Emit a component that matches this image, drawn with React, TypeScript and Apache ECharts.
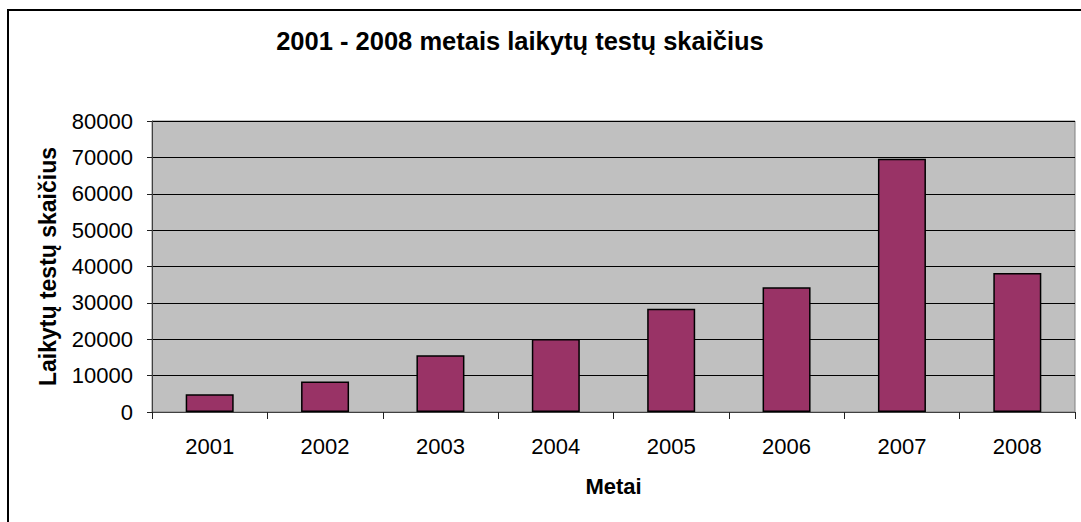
import React, { useEffect, useRef } from "react";
import * as echarts from "echarts";

const titleText = "2001 - 2008 metais laikytų testų skaičius";
const xAxisName = "Metai";
const yAxisName = "Laikytų testų skaičius";
const years = ["2001", "2002", "2003", "2004", "2005", "2006", "2007", "2008"];
const testCounts = [4900, 8400, 15600, 20100, 28400, 34300, 69600, 38200];
const yMin = 0;
const yMax = 80000;
const yStep = 10000;

const FONT = "'Liberation Sans', Arial, sans-serif";

export default function App() {
  const ref = useRef<HTMLDivElement>(null);
  useEffect(() => {
    if (!ref.current) return;
    const chart = echarts.init(ref.current, undefined, { renderer: "svg" });
    chart.setOption({
      animation: false,
      backgroundColor: "#ffffff",
      textStyle: { fontFamily: FONT },
      grid: {
        left: 152,
        top: 121,
        right: 6,
        bottom: 110,
        show: true,
        backgroundColor: "#c0c0c0",
        borderColor: "#808080",
        borderWidth: 1,
      },
      graphic: [
        {
          type: "rect",
          shape: { x: 8, y: 10, width: 1200, height: 700 },
          style: { fill: "none", stroke: "#000000", lineWidth: 2 },
          silent: true,
          z: 100,
        },
        {
          type: "text",
          x: 520,
          y: 41,
          style: {
            text: titleText,
            fontFamily: FONT,
            fontWeight: "bold",
            fontSize: 25.5,
            fill: "#000000",
            align: "center",
            verticalAlign: "middle",
          },
        },
      ],
      xAxis: {
        type: "category",
        data: years,
        name: xAxisName,
        nameLocation: "middle",
        nameGap: 63,
        nameTextStyle: {
          fontFamily: FONT,
          fontWeight: "bold",
          fontSize: 22,
          color: "#000000",
        },
        axisLine: { show: true, lineStyle: { color: "#404040", width: 1 } },
        axisTick: { show: true, length: 7, lineStyle: { color: "#202020" } },
        axisLabel: {
          fontFamily: FONT,
          fontSize: 22,
          color: "#000000",
          margin: 23,
        },
        splitLine: { show: false },
      },
      yAxis: {
        type: "value",
        min: yMin,
        max: yMax,
        interval: yStep,
        name: yAxisName,
        nameLocation: "middle",
        nameGap: 93,
        nameTextStyle: {
          fontFamily: FONT,
          fontWeight: "bold",
          fontSize: 23,
          color: "#000000",
        },
        axisLine: { show: true, lineStyle: { color: "#404040", width: 1 } },
        axisTick: { show: true, length: 5, lineStyle: { color: "#202020" } },
        axisLabel: {
          fontFamily: FONT,
          fontSize: 22,
          color: "#000000",
          margin: 19,
          formatter: (v: number) => String(v),
        },
        splitLine: { show: true, lineStyle: { color: "#000000", width: 1 } },
      },
      series: [
        {
          type: "bar",
          data: testCounts,
          barWidth: 48,
          itemStyle: {
            color: "#993366",
            borderColor: "#000000",
            borderWidth: 1.5,
          },
        },
      ],
    });
    return () => chart.dispose();
  }, []);
  return (
    <div
      ref={ref}
      style={{ position: "fixed", left: 0, top: 0, width: 1081, height: 522 }}
    />
  );
}
